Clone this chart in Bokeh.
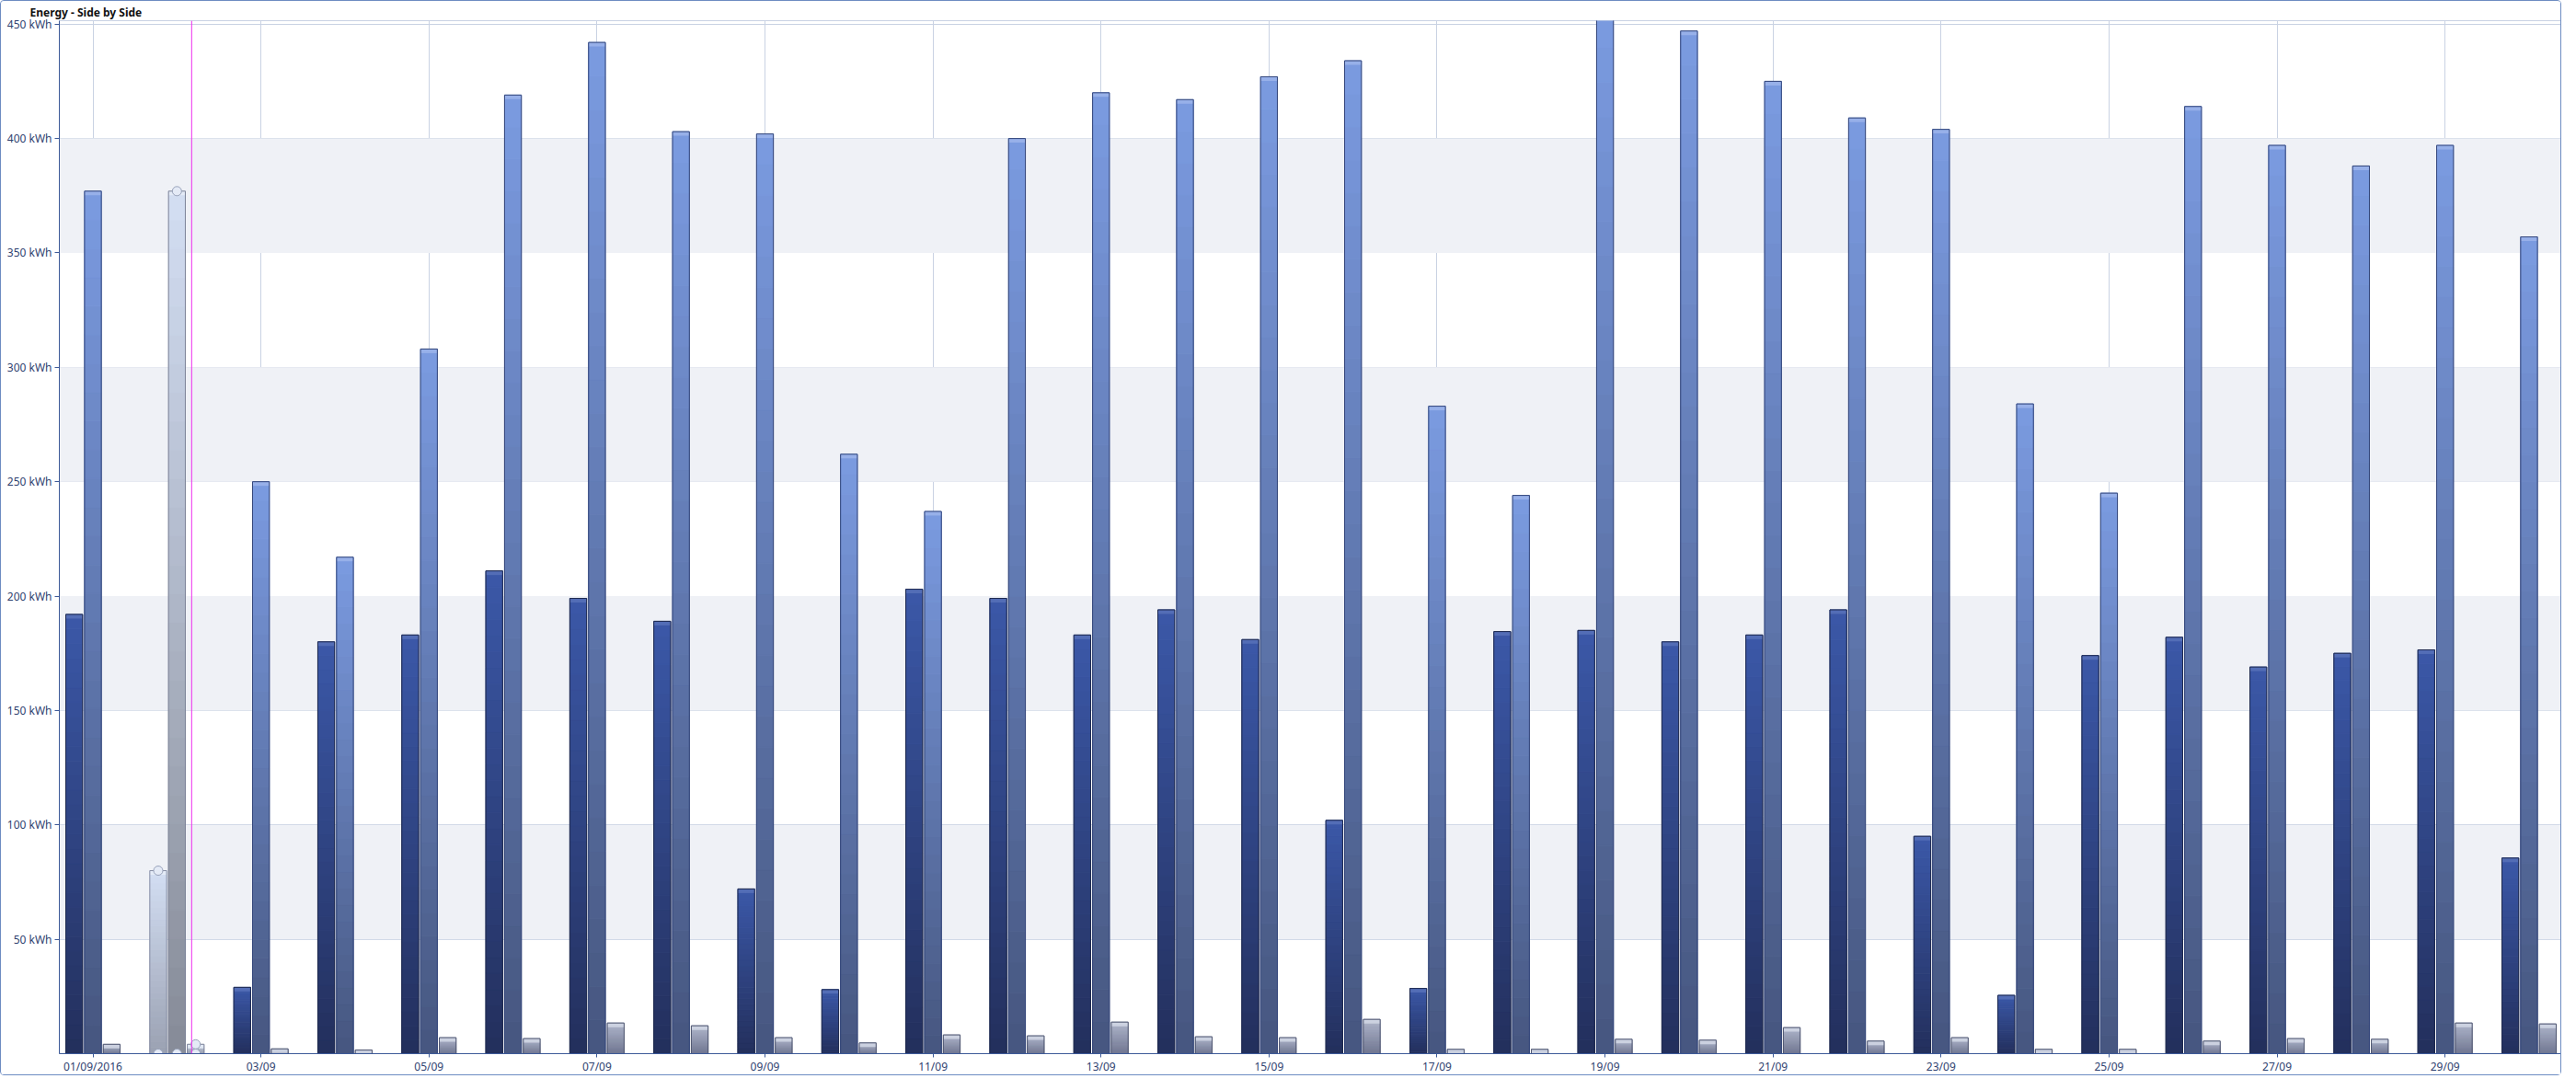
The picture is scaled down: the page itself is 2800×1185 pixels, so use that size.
from bokeh.plotting import figure
from bokeh.models import FixedTicker, Range1d, BoxAnnotation, Span, PrintfTickFormatter
from bokeh.embed import file_html
from bokeh.resources import INLINE

# ---------------- data ----------------
days = list(range(1, 31))
series_a = [192, 80, 29, 180, 183, 211, 199, 189, 72, 28, 203, 199, 183, 194, 181,
            102, 28.5, 184.5, 185, 180, 183, 194, 95, 25.5, 174, 182, 169, 175, 176.5, 85.5]
series_b = [377, 377, 250, 217, 308, 419, 442, 403, 402, 262, 237, 400, 420, 417, 427,
            434, 283, 244, 455, 447, 425, 409, 404, 284, 245, 414, 397, 388, 397, 357]
series_c = [4.1, 4.1, 2.1, 1.6, 7, 6.6, 13.4, 12.2, 7, 4.7, 8.2, 7.8, 13.8, 7.4, 7,
            15, 1.9, 1.9, 6.3, 5.9, 11.4, 5.5, 7, 1.9, 1.9, 5.5, 6.6, 6.3, 13.4, 13]
tick_days = [1, 3, 5, 7, 9, 11, 13, 15, 17, 19, 21, 23, 25, 27, 29]
tick_labels = ["01/09/2016", "03/09", "05/09", "07/09", "09/09", "11/09", "13/09", "15/09",
               "17/09", "19/09", "21/09", "23/09", "25/09", "27/09", "29/09"]
y_ticks = [50, 100, 150, 200, 250, 300, 350, 400, 450]
selected_day = 2
cursor_x = 2.175

# ---------------- style ----------------
FONT = "Noto Sans"
TXT = "#2f4270"
AXIS = "#3d5a98"
GRID = "#c9d2e3"
BAND = "#eff1f6"

series_styles = [
    # (offset, top colour, bottom colour, outline, cap)
    (-0.223, "#3b58a8", "#232f5c", "#1f2a4e", "#5670b8"),
    (0.0, "#7b9be1", "#46567f", "#34467a", "#9ab2ea"),
    (0.223, "#aeb5ca", "#6f7590", "#4f5670", "#cfd5e3"),
]
sel_styles = [
    ("#d3def3", "#9aa1b2", "#8990a6", "#e6ecf7"),
    ("#d3def3", "#868b97", "#7e8498", "#e6ecf7"),
    ("#c6cddd", "#959cae", "#80879c", "#e6ecf7"),
]
BAR_W = 0.2
NSEG = 30


def hx(c):
    c = c.lstrip("#")
    return [int(c[i:i + 2], 16) for i in (0, 2, 4)]


def lerp(c1, c2, t):
    a, b = hx(c1), hx(c2)
    return "#%02x%02x%02x" % tuple(int(round(a[i] + (b[i] - a[i]) * t)) for i in range(3))


p = figure(width=2784, height=1169, output_backend="svg", toolbar_location=None,
           x_range=Range1d(0.6, 30.4), y_range=Range1d(0, 451.5),
           min_border_left=63, min_border_right=0, min_border_top=0, min_border_bottom=16)
p.styles = {"border": "1px solid #6d8cc2", "border-radius": "4px"}
p.background_fill_color = "white"
p.border_fill_color = "white"
p.outline_line_color = GRID

p.title.text = "Energy - Side by Side"
p.title.text_font = FONT
p.title.text_font_size = "12px"
p.title.text_font_style = "bold"
p.title.text_color = "#111111"
p.title.align = "left"
p.title.offset = -32
p.title.standoff = 2

# bands
for i in range(0, len(y_ticks) - 1, 2):
    p.add_layout(BoxAnnotation(bottom=y_ticks[i], top=y_ticks[i + 1], fill_color=BAND,
                               fill_alpha=1.0, line_alpha=0, level="underlay"))

# grids
p.xgrid.ticker = FixedTicker(ticks=tick_days)
p.ygrid.ticker = FixedTicker(ticks=y_ticks)
p.xgrid.grid_line_color = GRID
p.ygrid.grid_line_color = GRID
p.xgrid.level = "underlay"
p.ygrid.level = "underlay"

# bars (gradient by stacked segments)
series = [series_a, series_b, series_c]
L, R, B, T, C = [], [], [], [], []
oL, oR, oT, oC = [], [], [], []
cL, cR, cB, cT, cC = [], [], [], [], []
sel_x, sel_y = [], []
for s, vals in enumerate(series):
    off, ctop, cbot, cline, ccap = series_styles[s]
    for d, v in zip(days, vals):
        if d == selected_day:
            ctop_, cbot_, cline_, ccap_ = sel_styles[s]
        else:
            ctop_, cbot_, cline_, ccap_ = ctop, cbot, cline, ccap
        x0 = d + off - BAR_W / 2
        x1 = d + off + BAR_W / 2
        for k in range(NSEG):
            L.append(x0); R.append(x1)
            B.append(v * k / NSEG); T.append(v * (k + 1) / NSEG)
            C.append(lerp(cbot_, ctop_, (k + 0.5) / NSEG))
        cap = min(v, 1.8)
        cL.append(x0); cR.append(x1); cB.append(v - cap); cT.append(v); cC.append(ccap_)
        oL.append(x0); oR.append(x1); oT.append(v); oC.append(cline_)
        if d == selected_day:
            sel_x += [d + off, d + off]
            sel_y += [v, 0]

p.quad(left=L, right=R, bottom=B, top=T, fill_color=C, line_color=C, line_width=1)
p.quad(left=cL, right=cR, bottom=cB, top=cT, fill_color=cC, line_color=None, fill_alpha=0.9)
p.quad(left=oL, right=oR, bottom=0, top=oT, fill_alpha=0, line_color=oC, line_width=1)
p.scatter(sel_x, sel_y, size=10, marker="circle", fill_color="#e4eaf6",
          line_color="#98a2ba", line_width=1)

p.add_layout(Span(location=cursor_x, dimension="height", line_color="#ee2cee", line_width=1))

# axes
p.xaxis.ticker = FixedTicker(ticks=tick_days)
p.xaxis.major_label_overrides = dict(zip(tick_days, tick_labels))
p.yaxis.ticker = FixedTicker(ticks=y_ticks)
p.yaxis.formatter = PrintfTickFormatter(format="%d kWh")
for ax in (p.xaxis[0], p.yaxis[0]):
    ax.axis_line_color = AXIS
    ax.major_tick_line_color = AXIS
    ax.minor_tick_line_color = None
    ax.major_tick_out = 4
    ax.major_tick_in = 0
    ax.major_label_standoff = 1
    ax.major_label_text_font = FONT
    ax.major_label_text_font_size = "12px"
    ax.major_label_text_color = TXT
p.yaxis.major_tick_out = 5
p.yaxis.major_label_standoff = 3

open("out.html", "w").write(file_html(p, INLINE))
